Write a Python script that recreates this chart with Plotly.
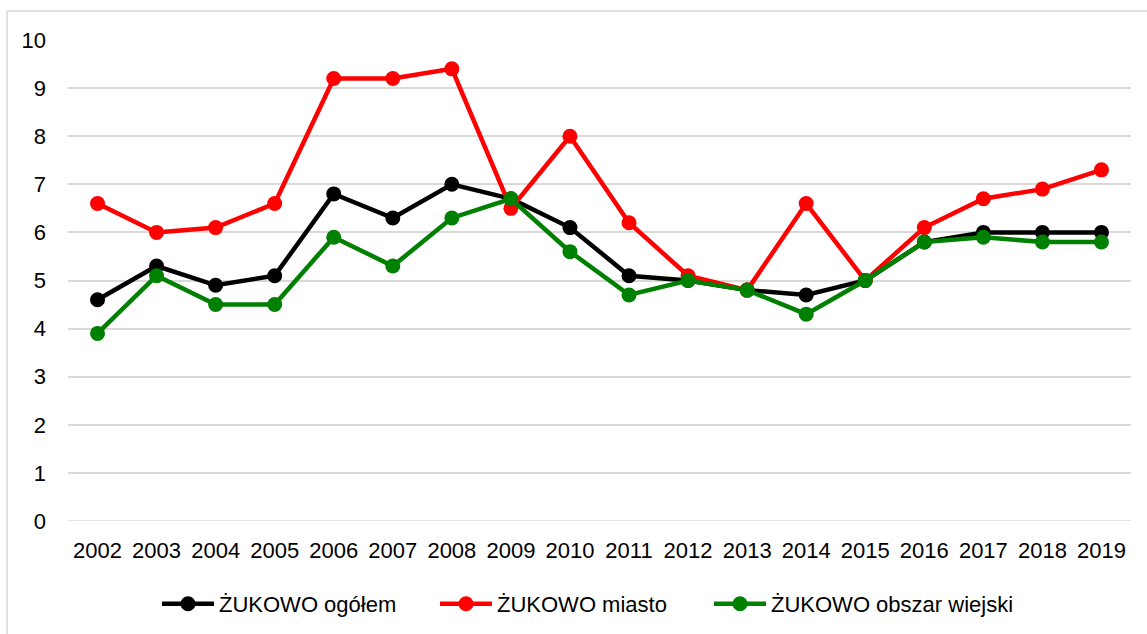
import plotly.graph_objects as go

years = ["2002", "2003", "2004", "2005", "2006", "2007", "2008", "2009", "2010",
         "2011", "2012", "2013", "2014", "2015", "2016", "2017", "2018", "2019"]
ogolem = [4.6, 5.3, 4.9, 5.1, 6.8, 6.3, 7.0, 6.7, 6.1, 5.1, 5.0, 4.8, 4.7, 5.0, 5.8, 6.0, 6.0, 6.0]
miasto = [6.6, 6.0, 6.1, 6.6, 9.2, 9.2, 9.4, 6.5, 8.0, 6.2, 5.1, 4.8, 6.6, 5.0, 6.1, 6.7, 6.9, 7.3]
wiejski = [3.9, 5.1, 4.5, 4.5, 5.9, 5.3, 6.3, 6.7, 5.6, 4.7, 5.0, 4.8, 4.3, 5.0, 5.8, 5.9, 5.8, 5.8]
names = ["ŻUKOWO ogółem", "ŻUKOWO miasto", "ŻUKOWO obszar wiejski"]
colors = ["#000000", "#ff0000", "#008000"]
yticks = [0, 1, 2, 3, 4, 5, 6, 7, 8, 9, 10]

FONT = "Liberation Sans Narrow, Arial Narrow, Liberation Sans, Arial, sans-serif"

W, H = 1147, 634
L, R, T, B = 68, 16, 40, 113
pw, ph = W - L - R, H - T - B

def px(x):
    return (x - L) / pw

def py(y):
    return (H - B - y) / ph

legend_ids = ["legend", "legend2", "legend3"]
legend_x = [157, 435, 709]

fig = go.Figure()
for vals, name, col, lid in zip([ogolem, miasto, wiejski], names, colors, legend_ids):
    fig.add_trace(go.Scatter(
        x=years, y=vals, name=name, mode="lines+markers",
        line=dict(color=col, width=4.5),
        marker=dict(color=col, size=15),
        legend=lid,
    ))

legend_common = dict(orientation="h", xref="container", yref="container",
                     xanchor="left", y=(H - 604) / H, yanchor="middle",
                     font=dict(family=FONT, size=22, color="#000000"),
                     itemwidth=52, bgcolor="rgba(0,0,0,0)")

fig.update_layout(
    width=W, height=H,
    margin=dict(l=L, r=R, t=T, b=B, autoexpand=False),
    paper_bgcolor="white", plot_bgcolor="white",
    font=dict(family=FONT, size=22, color="#000000"),
    showlegend=True,
    legend=dict(x=legend_x[0] / W, **legend_common),
    legend2=dict(x=legend_x[1] / W, **legend_common),
    legend3=dict(x=legend_x[2] / W, **legend_common),
    xaxis=dict(type="category", range=[-0.5, 17.5], showgrid=False, zeroline=False,
               showline=False, ticks="", ticklabelstandoff=14, automargin=False,
               tickfont=dict(family=FONT, size=22, color="#000000")),
    yaxis=dict(range=[0, 10], tickvals=yticks, showgrid=True, gridcolor="#d9d9d9",
               gridwidth=1.5, zeroline=False, showline=False, ticks="",
               ticklabelstandoff=21, automargin=False,
               tickfont=dict(family=FONT, size=22, color="#000000")),
    shapes=[
        dict(type="line", xref="paper", yref="paper", x0=px(7), x1=px(1147), y0=py(11), y1=py(11),
             line=dict(color="#d9d9d9", width=1.5)),
        dict(type="line", xref="paper", yref="paper", x0=px(7), x1=px(7), y0=py(11), y1=py(634),
             line=dict(color="#d9d9d9", width=1.5)),
        dict(type="line", xref="paper", yref="y", x0=0, x1=1, y0=0, y1=0,
             line=dict(color="#d9d9d9", width=1.5), layer="below"),
    ],
)

fig.write_html("out.html", config={"displayModeBar": False},
               post_script="document.body.style.margin='0';document.body.style.overflow='hidden';")
